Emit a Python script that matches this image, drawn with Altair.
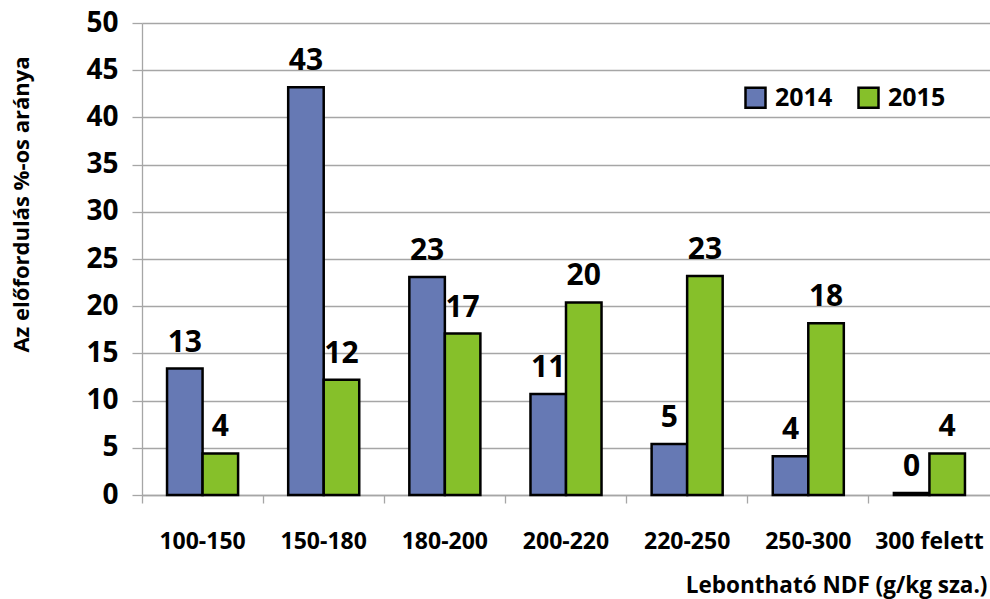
import altair as alt
import pandas as pd

# Degradable NDF classes (g/kg DM) and share of samples (%) per year
categories = ["100-150", "150-180", "180-200", "200-220", "220-250", "250-300", "300 felett"]
years = ["2014", "2015"]
share_2014 = [13.4, 43.2, 23.1, 10.7, 5.4, 4.1, 0.2]
share_2015 = [4.4, 12.2, 17.1, 20.4, 23.2, 18.2, 4.4]

rows = []
for cat, a, b in zip(categories, share_2014, share_2015):
    rows.append({"kat": cat, "ev": "2014", "ertek": a})
    rows.append({"kat": cat, "ev": "2015", "ertek": b})
df = pd.DataFrame(rows)

FONT = "Open Sans"
GRID = "#a6a6a6"

base = alt.Chart(df).encode(
    x=alt.X(
        "kat:N",
        sort=categories,
        scale=alt.Scale(paddingInner=0, paddingOuter=0),
        axis=alt.Axis(
            title="Lebontható NDF (g/kg sza.)",
            titleX=845,
            titleY=97,
            titleAlign="right",
            titleBaseline="alphabetic",
            titleFontSize=22.5,
            titleFont=FONT,
            titleFontWeight="bold",
            titleColor="black",
            labelAngle=0,
            labelFontSize=23,
            labelFont=FONT,
            labelFontWeight="bold",
            labelColor="black",
            labelPadding=27,
            bandPosition=0,
            tickSize=8,
            tickColor=GRID,
            tickWidth=1.3,
            domainColor=GRID,
            domainWidth=1.3,
            grid=False,
        ),
    ),
    xOffset=alt.XOffset(
        "ev:N", sort=years, scale=alt.Scale(paddingInner=0, paddingOuter=0.705)
    ),
    y=alt.Y(
        "ertek:Q",
        scale=alt.Scale(domain=[0, 50], nice=False),
        axis=alt.Axis(
            title="Az előfordulás %-os aránya",
            titleX=-121,
            titleY=181,
            titleAngle=-90,
            titleAlign="center",
            titleBaseline="middle",
            titleFontSize=22,
            titleFont=FONT,
            titleFontWeight="bold",
            titleColor="black",
            values=list(range(0, 51, 5)),
            labelFontSize=28,
            labelFont=FONT,
            labelFontWeight="bold",
            labelColor="black",
            labelPadding=14,
            tickSize=10,
            tickColor=GRID,
            tickWidth=1.3,
            domainColor=GRID,
            domainWidth=1.3,
            gridColor=GRID,
            gridWidth=1.3,
        ),
    ),
)

bars = base.mark_bar(stroke="black", strokeWidth=2.5, opacity=1).encode(
    color=alt.Color(
        "ev:N",
        scale=alt.Scale(domain=years, range=["#6679b4", "#86c02a"]),
        legend=alt.Legend(
            title=None,
            orient="none",
            legendX=601,
            legendY=62,
            direction="horizontal",
            symbolType="square",
            symbolSize=400,
            symbolStrokeColor="black",
            symbolStrokeWidth=2.5,
            symbolOpacity=1,
            labelFontSize=25,
            labelFont=FONT,
            labelFontWeight="bold",
            labelColor="black",
            labelOffset=7,
            columnPadding=20,
        ),
    )
)

labels = base.mark_text(
    font=FONT,
    fontSize=30,
    fontWeight="bold",
    color="black",
    baseline="alphabetic",
    dy=-17,
).encode(text=alt.Text("ertek:Q", format=".0f"))

chart = (
    alt.layer(bars, labels)
    .properties(
        width=848,
        height=472,
        autosize=alt.AutoSizeParams(type="none"),
        padding={"left": 142, "top": 23, "right": 0, "bottom": 104},
        background="white",
    )
    .configure_view(stroke=None)
)

chart.save("out.html", embed_options={"renderer": "svg", "actions": False})
